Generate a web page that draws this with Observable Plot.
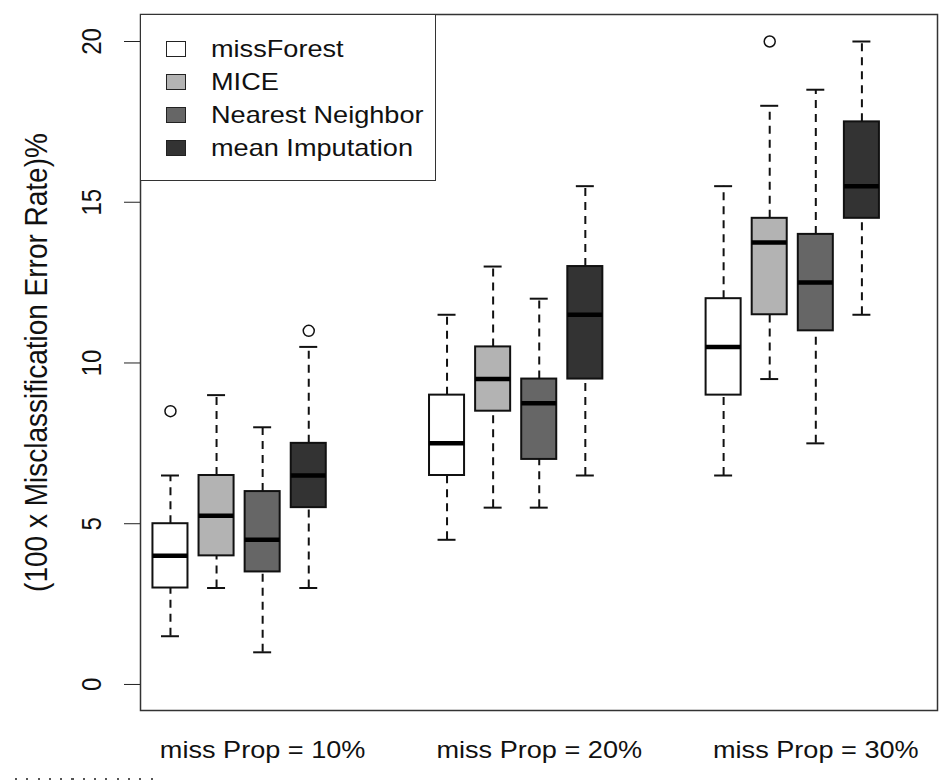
<!DOCTYPE html>
<html>
<head>
<meta charset="utf-8">
<script src="https://cdn.jsdelivr.net/npm/d3@7"></script>
<script src="https://cdn.jsdelivr.net/npm/@observablehq/plot@0.6"></script>
<style>
html, body { margin: 0; padding: 0; background: #fff; }
#wrap { position: relative; width: 940px; height: 782px; font-family: "Liberation Sans", Arial, sans-serif; }
#legend { position: absolute; left: 140px; top: 14px; width: 296px; height: 167px; box-sizing: border-box; border: 1.5px solid #333; background: #fff; }
.sw { position: absolute; left: 25px; width: 20px; height: 16px; border: 1.4px solid #222; box-sizing: border-box; }
.lab { position: absolute; left: 70px; height: 28px; line-height: 28px; font-size: 24px; transform: scaleX(1.13); transform-origin: left center; white-space: nowrap; color: #111; }
#dots { position: absolute; left: 15px; top: 778px; width: 140px; height: 2px; background: repeating-linear-gradient(to right, #555 0 2px, transparent 2px 11.3px); }
</style>
</head>
<body>
<div id="wrap">
  <div id="chart"></div>
  <div id="legend"></div>
  <div id="dots"></div>
</div>
<script>
// ---- data ----
const groups = ["miss Prop = 10%", "miss Prop = 20%", "miss Prop = 30%"];
const groupLabelAt = [3, 9, 15];
const methods = ["missForest", "MICE", "Nearest Neighbor", "mean Imputation"];
const fills = ["#ffffff", "#b3b3b3", "#666666", "#333333"];

// ordered: group 10% (4 methods), group 20%, group 30%
const lowerWhisker = [1.5, 3, 1, 3,     4.5, 5.5, 5.5, 6.5,    6.5, 9.5, 7.5, 11.5];
const q1s          = [3, 4, 3.5, 5.5,   6.5, 8.5, 7, 9.5,      9, 11.5, 11, 14.5];
const medians      = [4, 5.25, 4.5, 6.5, 7.5, 9.5, 8.75, 11.5, 10.5, 13.75, 12.5, 15.5];
const q3s          = [5, 6.5, 6, 7.5,   9, 10.5, 9.5, 13,      12, 14.5, 14, 17.5];
const upperWhisker = [6.5, 9, 8, 10.5,  11.5, 13, 12, 15.5,    15.5, 18, 18.5, 20];

const outlierGroup  = [0, 0, 2];
const outlierMethod = [0, 3, 1];
const outlierValue  = [8.5, 11, 20];

const yTicks = [0, 5, 10, 15, 20];
const yLabel = "(100 x Misclassification Error Rate)%";

// ---- build tables ----
const posOf = (gi, mi) => 1 + 6 * gi + mi;
const rows = [];
groups.forEach((g, gi) => methods.forEach((m, mi) => {
  const k = gi * 4 + mi;
  rows.push({group: g, method: m, pos: posOf(gi, mi), fill: fills[mi],
    lo: lowerWhisker[k], q1: q1s[k], med: medians[k], q3: q3s[k], hi: upperWhisker[k]});
}));
const outliers = outlierValue.map((v, i) => ({pos: posOf(outlierGroup[i], outlierMethod[i]), v}));
const half = 0.38, staple = 0.195;

const plot = Plot.plot({
  width: 940,
  height: 782,
  marginLeft: 140,
  marginRight: 3,
  marginTop: 14,
  marginBottom: 72,
  style: {fontFamily: "'Liberation Sans', Arial, sans-serif", background: "#fff", color: "#222", overflow: "visible"},
  x: {domain: [0.35, 17.64], axis: null},
  y: {domain: [-0.81, 20.84], ticks: yTicks, tickSize: 16, tickFormat: () => "", label: null},
  color: {type: "identity"},
  marks: [
    Plot.ruleX(rows, {x: "pos", y1: "q3", y2: "hi", stroke: "#111", strokeWidth: 2, strokeDasharray: "8,6"}),
    Plot.ruleX(rows, {x: "pos", y1: "lo", y2: "q1", stroke: "#111", strokeWidth: 2, strokeDasharray: "8,6"}),
    Plot.ruleY(rows, {y: "hi", x1: d => d.pos - staple, x2: d => d.pos + staple, stroke: "#111", strokeWidth: 2}),
    Plot.ruleY(rows, {y: "lo", x1: d => d.pos - staple, x2: d => d.pos + staple, stroke: "#111", strokeWidth: 2}),
    Plot.rect(rows, {x1: d => d.pos - half, x2: d => d.pos + half, y1: "q1", y2: "q3", fill: "fill", stroke: "#111", strokeWidth: 2}),
    Plot.ruleY(rows, {y: "med", x1: d => d.pos - half, x2: d => d.pos + half, stroke: "#000", strokeWidth: 4.5}),
    Plot.dot(outliers, {x: "pos", y: "v", r: 5.5, fill: "#fff", stroke: "#111", strokeWidth: 1.5}),
    Plot.frame({stroke: "#333", strokeWidth: 1.5}),
    Plot.text(yTicks, {y: d => d, text: d => String(d), frameAnchor: "left", dx: -48, rotate: -90, fontSize: 24, fill: "#111", textAnchor: "middle"}),
    Plot.text([yLabel], {text: d => d, frameAnchor: "left", dx: -104, rotate: -90, fontSize: 28, fill: "#111", textAnchor: "middle"}),
    Plot.text(groups, {x: (d, i) => groupLabelAt[i], text: d => d, frameAnchor: "bottom", dy: 47, fontSize: 24, fill: "#111", textAnchor: "middle"})
  ]
});
document.getElementById("chart").appendChild(plot);

// horizontal stretch of text to match the reference's aspect
const S = 1.13;
d3.select(plot).selectAll("text").each(function() {
  const t = this.getAttribute("transform");
  if (t) {
    this.setAttribute("transform", t + (t.includes("rotate") ? ` scale(1,${S})` : ` scale(${S},1)`));
  } else {
    const x = +this.getAttribute("x") || 0, y = +this.getAttribute("y") || 0;
    this.setAttribute("transform", `translate(${x},${y}) scale(${S},1) translate(${-x},${-y})`);
  }
});

// legend
const legend = document.getElementById("legend");
methods.forEach((m, i) => {
  const cy = 34 + 33 * i;
  const sw = document.createElement("div");
  sw.className = "sw";
  sw.style.top = (cy - 8) + "px";
  sw.style.background = fills[i];
  legend.appendChild(sw);
  const lab = document.createElement("div");
  lab.className = "lab";
  lab.style.top = (cy - 14) + "px";
  lab.textContent = m;
  legend.appendChild(lab);
});
</script>
</body>
</html>
